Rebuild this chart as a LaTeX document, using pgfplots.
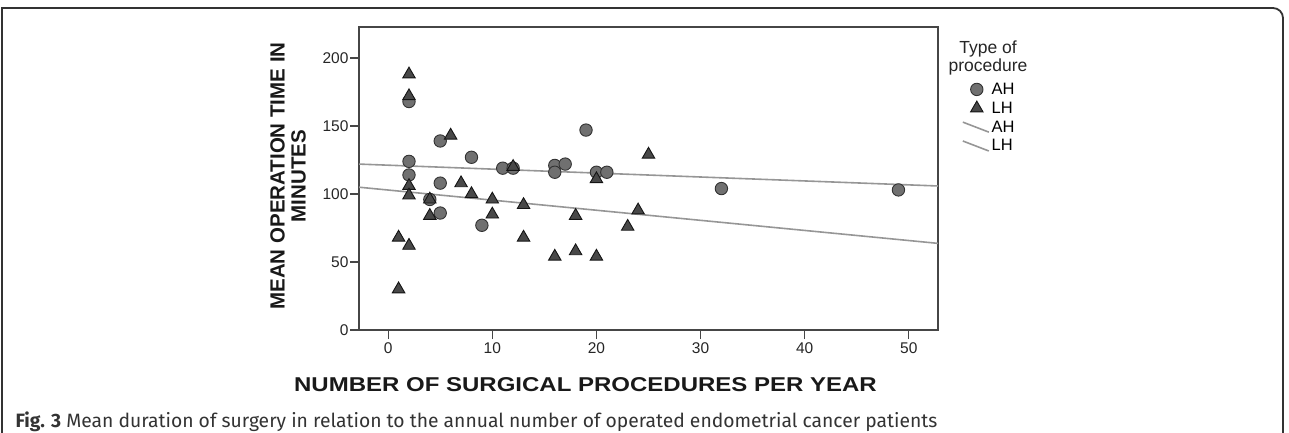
\documentclass[border=0pt]{standalone}
\usepackage{pgfplots}
\pgfplotsset{compat=1.18}
\usepackage{fontspec}
\setmainfont{Liberation Sans}
\newfontfamily\capfont{Fira Sans}
\definecolor{ahfill}{RGB}{112,112,112}
\definecolor{ahdraw}{RGB}{50,50,50}
\definecolor{lhfill}{RGB}{72,72,72}
\definecolor{lhdraw}{RGB}{20,20,20}
\definecolor{fitline}{RGB}{150,150,150}
\definecolor{framec}{RGB}{70,70,70}
\pgfplotsset{
  markleg/.style={legend image code/.code={\draw[mark repeat=2,mark phase=2,##1] plot coordinates {(0pt,0pt)(14pt,0pt)(26pt,0pt)};}},
  lineleg/.style={legend image code/.code={\draw[##1] (0pt,5pt) -- (26pt,-5pt);}},
}
\begin{document}
\begin{tikzpicture}[x=1pt,y=1pt]
\path[use as bounding box] (0,0) rectangle (1289,432);
\draw[line width=1.8pt, black!80] (2,-2) -- (2,424) -- (1273,424) arc[start angle=90,end angle=0,radius=10] -- (1283,-2);
\begin{axis}[
  at={(359pt,102pt)}, anchor=south west, scale only axis,
  width=579pt, height=303pt,
  xmin=-2.8, xmax=52.8, ymin=0, ymax=222.8,
  axis line style={framec, line width=1.3pt},
  xtick={0,10,...,50}, ytick={0,50,...,200},
  tick align=outside, xtick pos=left, ytick pos=left,
  major tick length=9pt,
  tick style={framec, line width=1.2pt},
  ticklabel style={font=\fontsize{15.5}{17}\selectfont, text=black!85},
  yticklabel style={xshift=2pt},
  /pgf/number format/assume math mode=true,
  legend style={at={(1,1)}, anchor=north west, xshift=24pt, yshift=-54pt,
    draw=none, fill=none, inner sep=0pt, outer sep=0pt, row sep=2pt,
    font=\fontsize{16.5}{16.5}\selectfont},
  legend cell align=left,
]
\addplot[only marks, mark=*, mark size=6.2pt, mark options={fill=ahfill, draw=ahdraw, line width=0.9pt}, markleg]
coordinates {
(2,168) (2,124) (2,114) (4,96) (5,139) (5,108) (5,86) (8,127) (9,77)
(11,119) (12,119) (16,121) (16,116) (17,122) (19,147) (20,116) (21,116)
(32,104) (49,103)
};
\addlegendentry{AH}
\addplot[only marks, mark=triangle*, mark size=7.2pt, mark options={fill=lhfill, draw=lhdraw, line width=0.9pt}, markleg]
coordinates {
(1,30) (1,68) (2,188) (2,172) (2,106) (2,99) (2,62) (4,96) (4,84)
(6,143) (7,108) (8,100) (10,96) (10,85) (12,120) (13,92) (13,68)
(16,54) (18,84) (18,58) (20,111) (20,54) (23,76) (24,88) (25,129)
};
\addlegendentry{LH}
\addplot[fitline, line width=1.6pt, lineleg]
coordinates {(-2.8,122) (52.8,105.9)};
\addlegendentry{AH}
\addplot[fitline, line width=1.6pt, lineleg]
coordinates {(-2.8,105) (52.8,63.7)};
\addlegendentry{LH}
\end{axis}
\node[rotate=90, align=center, font=\bfseries\fontsize{20.5}{21}\selectfont, text=black!90] at (288,256) {MEAN OPERATION TIME IN\\MINUTES};
\node[font=\bfseries\fontsize{20}{24}\selectfont, text=black!90] at (585.5,47) {\scalebox{1.2}[1]{NUMBER OF SURGICAL PROCEDURES PER YEAR}};
\node[align=center, font=\fontsize{17.5}{18}\selectfont, text=black!85] at (988,374) {Type of\\procedure};
\node[anchor=base west, font=\capfont\fontsize{19.3}{22}\selectfont, text=black!80] at (12,5) {\textbf{Fig. 3} Mean duration of surgery in relation to the annual number of operated endometrial cancer patients};
\end{tikzpicture}
\end{document}
